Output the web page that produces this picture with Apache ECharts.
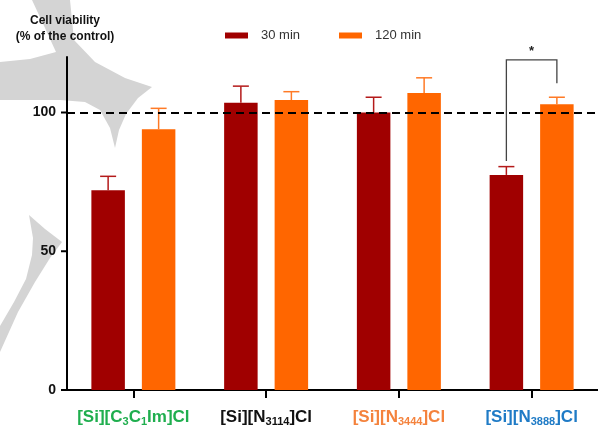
<!DOCTYPE html>
<html>
<head>
<meta charset="utf-8">
<script src="https://cdn.jsdelivr.net/npm/echarts@6/dist/echarts.min.js"></script>
<style>
  html, body { margin: 0; padding: 0; background: #fff; }
  #chart { width: 598px; height: 427px; }
</style>
</head>
<body>
<div id="chart"></div>
<script>
// Compounds (underscore marks a subscript run of digits)
const categories = ['[Si][C_3C_1Im]Cl', '[Si][N_3114]Cl', '[Si][N_3444]Cl', '[Si][N_3888]Cl'];
const seriesNames = ['30 min', '120 min'];
// Mean cell viability (% of control) and SD
const viability30 = [72, 103.5, 100, 77.5];
const sd30 = [5, 6, 5.5, 3];
const viability120 = [94, 104.5, 107, 103];
const sd120 = [7.5, 3, 5.5, 2.5];
const yTicks = [0, 50, 100];
const controlLevel = 100;
// Significance bracket: [category, left leg end, right leg end, bracket top, star level]
const significance = [[3, 82.5, 110.5, 119, 122.5]];

const FONT = "'Liberation Sans', Arial, Helvetica, sans-serif";
const labelColors = ['#1fae4e', '#111111', '#f4823c', '#1f7bc6'];
const BAR_W = 33.5;
const BAR_GAP_PX = 17;
const OFFSET = (BAR_W + BAR_GAP_PX) / 2;

const chart = echarts.init(document.getElementById('chart'), null, { renderer: 'canvas' });

const rich = {};
labelColors.forEach((c, i) => {
  rich['n' + i] = { color: c, fontSize: 17, fontWeight: 'bold', fontFamily: FONT, lineHeight: 20 };
  rich['s' + i] = { color: c, fontSize: 11, fontWeight: 'bold', fontFamily: FONT, lineHeight: 11, verticalAlign: 'bottom' };
});

function errorBars(values, sds, offset, color) {
  return {
    type: 'custom',
    clip: false,
    z: 3,
    data: values.map((v, i) => [i, v, sds[i]]),
    renderItem: function (params, api) {
      const base = api.coord([api.value(0), api.value(1)]);
      const top = api.coord([api.value(0), api.value(1) + api.value(2)]);
      const x = base[0] + offset;
      const style = { stroke: color, lineWidth: 1.5 };
      return {
        type: 'group',
        children: [
          { type: 'line', shape: { x1: x, y1: base[1], x2: x, y2: top[1] }, style: style },
          { type: 'line', shape: { x1: x - 8, y1: top[1], x2: x + 8, y2: top[1] }, style: style }
        ]
      };
    }
  };
}

const option = {
  animation: false,
  backgroundColor: '#ffffff',
  graphic: [
    {
      type: 'polygon', z: -10, silent: true,
      shape: { points: [[32, 0], [70, 0], [74, 40], [95, 62], [125, 78], [152, 87], [138, 98], [126, 114], [119, 130], [115, 148], [110, 128], [100, 110], [85, 102], [60, 100], [0, 100], [0, 62], [30, 59], [56, 52], [45, 28]] },
      style: { fill: '#d4d4d4' }
    },
    {
      type: 'polygon', z: -10, silent: true,
      shape: { points: [[29, 215], [45, 229], [62, 242], [50, 258], [35, 282], [18, 312], [0, 352], [0, 326], [14, 302], [26, 279], [32, 255], [33, 238]] },
      style: { fill: '#d4d4d4' }
    },
    {
      type: 'text', x: 65, y: 21, silent: true,
      style: { text: 'Cell viability', textAlign: 'center', textVerticalAlign: 'middle', font: 'bold 12px ' + FONT, fill: '#111' }
    },
    {
      type: 'text', x: 65, y: 37, silent: true,
      style: { text: '(% of the control)', textAlign: 'center', textVerticalAlign: 'middle', font: 'bold 12px ' + FONT, fill: '#111' }
    }
  ],
  legend: {
    data: seriesNames,
    left: 225,
    top: 29,
    padding: 0,
    itemWidth: 23,
    itemHeight: 6,
    itemGap: 39,
    icon: 'rect',
    textStyle: { fontSize: 13, color: '#333', fontFamily: FONT, padding: [0, 0, 0, 8] }
  },
  grid: { left: 67, top: 57, width: 542, height: 333 },
  xAxis: {
    type: 'category',
    data: categories,
    boundaryGap: true,
    axisLine: { show: true, lineStyle: { color: '#000', width: 2 } },
    axisTick: { show: true, inside: false, alignWithLabel: true, length: 8, lineStyle: { color: '#000', width: 2 } },
    axisLabel: {
      interval: 0,
      margin: 17,
      formatter: function (value, index) {
        return value.split(/_(\d+)/).map((p, i) => p === '' ? '' : '{' + (i % 2 ? 's' : 'n') + index + '|' + p + '}').join('');
      },
      rich: rich
    }
  },
  yAxis: {
    type: 'value',
    min: 0,
    max: 120,
    interval: 50,
    splitLine: { show: false },
    axisLine: { show: true, lineStyle: { color: '#000', width: 2 } },
    axisTick: { show: false },
    axisLabel: { customValues: yTicks, margin: 11, fontSize: 14, fontWeight: 'bold', color: '#111', fontFamily: FONT }
  },
  series: [
    {
      name: seriesNames[0],
      type: 'bar',
      data: viability30,
      barWidth: BAR_W,
      barGap: (BAR_GAP_PX / BAR_W * 100).toFixed(1) + '%',
      itemStyle: { color: '#a00000' },
      markLine: {
        silent: true,
        symbol: 'none',
        label: { show: false },
        lineStyle: { color: '#000', type: [8, 5], width: 2 },
        data: [{ yAxis: controlLevel }],
        z: 5
      }
    },
    {
      name: seriesNames[1],
      type: 'bar',
      data: viability120,
      barWidth: BAR_W,
      itemStyle: { color: '#ff6600' }
    },
    errorBars(viability30, sd30, -OFFSET, '#b41a1a'),
    errorBars(viability120, sd120, OFFSET, '#ff7a26'),
    {
      // Outward ticks on the value axis at the labelled values only
      type: 'custom',
      clip: false,
      silent: true,
      z: 6,
      data: yTicks.map(v => [0, v]),
      renderItem: function (params, api) {
        const x0 = params.coordSys.x;
        const y = api.coord([0, api.value(1)])[1];
        return { type: 'line', shape: { x1: x0 - 6, y1: y, x2: x0, y2: y }, style: { stroke: '#000', lineWidth: 2 } };
      }
    },
    {
      type: 'custom',
      clip: false,
      z: 4,
      data: significance,
      renderItem: function (params, api) {
        const c = api.value(0);
        const xl = api.coord([c, 0])[0] - OFFSET;
        const xr = api.coord([c, 0])[0] + OFFSET;
        const yl = api.coord([c, api.value(1)])[1];
        const yr = api.coord([c, api.value(2)])[1];
        const yt = api.coord([c, api.value(3)])[1];
        const ys = api.coord([c, api.value(4)])[1];
        return {
          type: 'group',
          children: [
            { type: 'polyline', shape: { points: [[xl, yl], [xl, yt], [xr, yt], [xr, yr]] }, style: { stroke: '#444', lineWidth: 1.3, fill: null } },
            { type: 'text', style: { x: (xl + xr) / 2, y: ys + 1, text: '*', textAlign: 'center', textVerticalAlign: 'middle', font: 'bold 13px ' + FONT, fill: '#222' } }
          ]
        };
      }
    }
  ]
};

chart.setOption(option);
</script>
</body>
</html>
